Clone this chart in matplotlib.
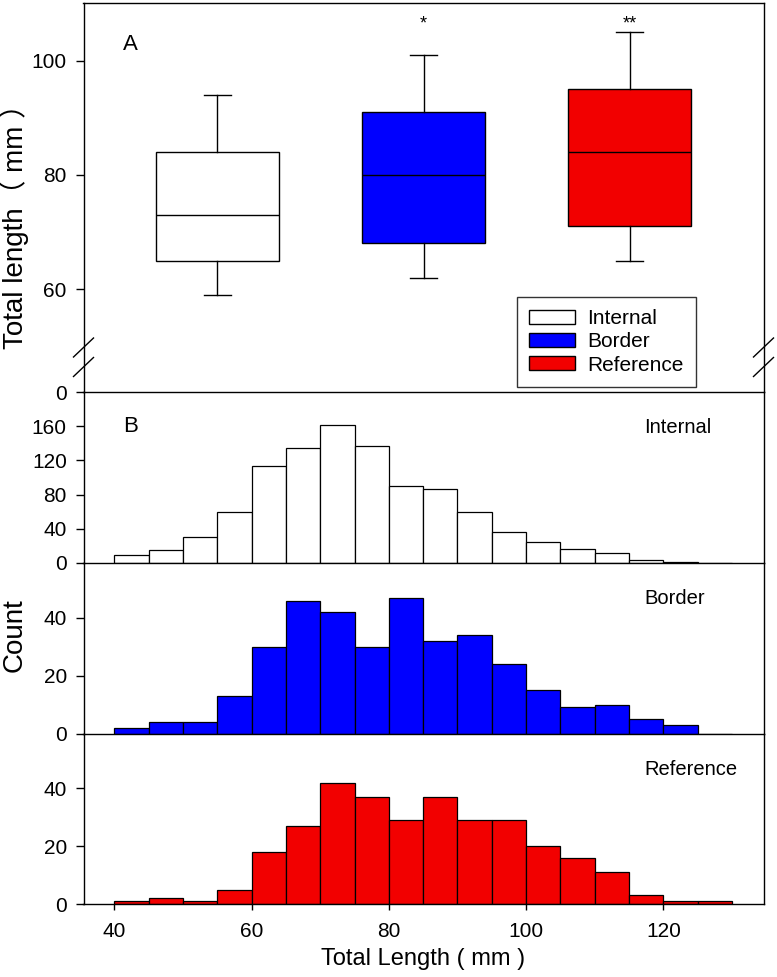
import matplotlib
matplotlib.use('Agg')
import matplotlib.pyplot as plt
from matplotlib.patches import Patch
from matplotlib.lines import Line2D

plt.rcParams['font.family'] = ['Liberation Sans', 'Noto Sans CJK SC', 'DejaVu Sans']

# panel A - box summaries
groups = ['Internal', 'Border', 'Reference']
colors = ['white', '#0000ff', '#f20000']
whislo = [59, 62, 65]
q1 = [65, 68, 71]
med = [73, 80, 84]
q3 = [84, 91, 95]
whishi = [94, 101, 105]
signif = ['', '*', '**']
sig_y = 106.4

# panel B - histograms, 5 mm bins
bin_left = [40, 45, 50, 55, 60, 65, 70, 75, 80, 85, 90, 95, 100, 105, 110, 115, 120, 125]
bin_w = 5
cnt_internal = [9, 15, 30, 60, 114, 135, 161, 137, 90, 87, 60, 36, 24, 16, 12, 3, 1, 0]
cnt_border = [2, 4, 4, 13, 30, 46, 42, 30, 47, 32, 34, 24, 15, 9, 10, 5, 3, 0]
cnt_reference = [1, 2, 1, 5, 18, 27, 42, 37, 29, 37, 29, 29, 20, 16, 11, 3, 1, 1]

break_low = 42  # bottom of broken axis, shown as 0

W, H = 777, 977
fig = plt.figure(figsize=(W/100, H/100), dpi=100)

def px(x0, y0, x1, y1):
    # pixel box -> figure rect
    return [x0/W, 1-y1/H, (x1-x0)/W, (y1-y0)/H]

L, R = 83.5, 763.5
ax = fig.add_axes(px(L, 3, R, 392))
axi = fig.add_axes(px(L, 392, R, 563))
axb = fig.add_axes(px(L, 563, R, 733.5))
axr = fig.add_axes(px(L, 733.5, R, 904))

tick_fs = 15
for a in [ax, axi, axb, axr]:
    a.set_facecolor('none')
    for s in a.spines.values():
        s.set_linewidth(1.0)
    a.tick_params(axis='y', direction='out', length=6, width=1, pad=6, labelsize=tick_fs)

# ---- panel A
stats = []
for i in range(3):
    stats.append(dict(med=med[i], q1=q1[i], q3=q3[i], whislo=whislo[i],
                      whishi=whishi[i], fliers=[], label=groups[i]))
bp = ax.bxp(stats, positions=[1, 2, 3], widths=0.6, patch_artist=True,
            showfliers=False, capwidths=0.135,
            boxprops=dict(edgecolor='black', linewidth=1.0),
            medianprops=dict(color='black', linewidth=1.0),
            whiskerprops=dict(color='black', linewidth=1.0),
            capprops=dict(color='black', linewidth=1.0))
for patch, c in zip(bp['boxes'], colors):
    patch.set_facecolor(c)
for i, s in enumerate(signif):
    if s:
        ax.text(i+1, sig_y, s, ha='center', va='center', fontsize=13)
ax.set_xlim(0.35, 3.65)
ax.set_ylim(break_low, 110.1)
ax.set_xticks([])
ax.set_yticks([break_low, 60, 80, 100])
ax.set_yticklabels(['0', '60', '80', '100'])
ax.text(0.058, 0.893, 'A', transform=ax.transAxes, fontsize=16, va='center')

handles = [Patch(facecolor=c, edgecolor='black', linewidth=1.0) for c in colors]
leg = ax.legend(handles, groups, loc='upper left', bbox_to_anchor=(0.637, 0.245),
                borderaxespad=0, fontsize=15, frameon=True, fancybox=False,
                handlelength=2.2, handleheight=0.68, handletextpad=0.6,
                borderpad=0.6, labelspacing=0.2)
leg.get_frame().set_edgecolor('black')
leg.get_frame().set_linewidth(1.0)

# ---- panel B
hists = [(axi, cnt_internal, colors[0], 'Internal', 200, [0, 40, 80, 120, 160]),
         (axb, cnt_border, colors[1], 'Border', 59, [0, 20, 40]),
         (axr, cnt_reference, colors[2], 'Reference', 59, [0, 20, 40])]
for a, cnt, c, name, top, yt in hists:
    a.bar(bin_left, cnt, width=bin_w, align='edge', color=c,
          edgecolor='black', linewidth=0.9)
    a.set_xlim(35.5, 134.6)
    a.set_ylim(0, top)
    a.set_yticks(yt)
    a.spines['top'].set_visible(False)
    a.text(0.825, 0.79, name, transform=a.transAxes, fontsize=14.5, va='center')
    a.set_xticks([])
axi.text(0.058, 0.80, 'B', transform=axi.transAxes, fontsize=16, va='center')

axr.set_xticks([40, 60, 80, 100, 120])
axr.tick_params(axis='x', direction='out', length=4, width=1, pad=9, labelsize=tick_fs)
axr.set_xlabel('Total Length ( mm )', fontsize=17, labelpad=5)

fig.text(14/W, 1-220/H, 'Total length（ mm ）', rotation=90, fontsize=20,
         ha='center', va='center')
fig.text(15/W, 1-635/H, 'Count', rotation=90, fontsize=20, ha='center', va='center')

# axis-break slashes
for x0 in [L, R]:
    for yc in [347.5, 367]:
        fig.add_artist(Line2D([(x0-10)/W, (x0+10)/W], [1-(yc+9.5)/H, 1-(yc-9.5)/H],
                              color='black', linewidth=1.0))

fig.savefig('out.png', dpi=100)
